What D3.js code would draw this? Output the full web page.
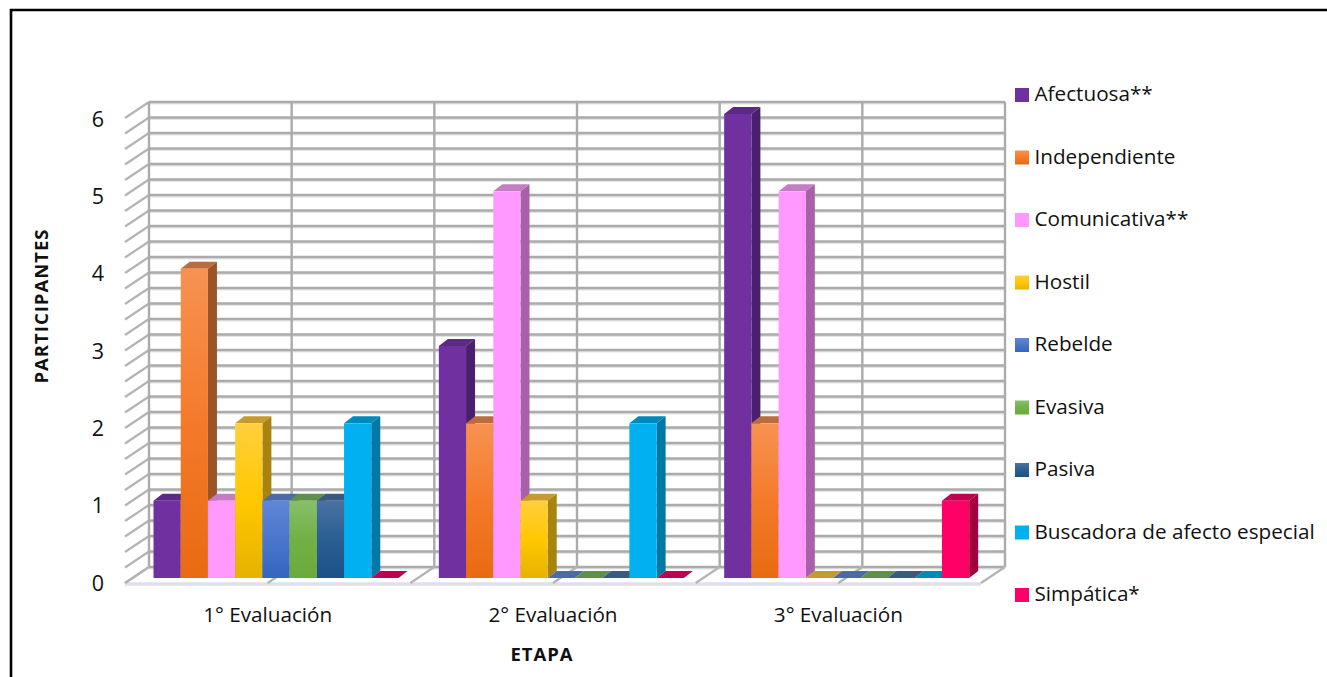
<!DOCTYPE html>
<html lang="es">
<head>
<meta charset="utf-8">
<title>Participantes por etapa</title>
<script src="https://cdn.jsdelivr.net/npm/d3@7/dist/d3.min.js"></script>
<style>
  html, body { margin: 0; padding: 0; background: #fff; }
  svg { display: block; }
  text { font-family: "Open Sans", Lato, sans-serif; fill: #111; }
</style>
</head>
<body>
<svg id="chart" width="1327" height="677"></svg>
<script>
// Evaluation stages and the traits counted at each one
const categories = ["1° Evaluación", "2° Evaluación", "3° Evaluación"];
const seriesNames = ["Afectuosa**", "Independiente", "Comunicativa**", "Hostil", "Rebelde", "Evasiva", "Pasiva", "Buscadora de afecto especial", "Simpática*"];
const afectuosa = [1, 3, 6];
const independiente = [4, 2, 2];
const comunicativa = [1, 5, 5];
const hostil = [2, 1, 0];
const rebelde = [1, 0, 0];
const evasiva = [1, 0, 0];
const pasiva = [1, 0, 0];
const buscadora = [2, 2, 0];
const simpatica = [0, 0, 1];
const seriesValues = [afectuosa, independiente, comunicativa, hostil, rebelde, evasiva, pasiva, buscadora, simpatica];
const axisLabels = [0, 1, 2, 3, 4, 5, 6];

// Face colours per series: gradient stops for the front, then top and side faces
const frontStops = [
  ["#7030a0", "#7030a0", "#7030a0"],
  ["#f79252", "#f47a2a", "#e86a12"],
  ["#ff99ff", "#ff99ff", "#ff99ff"],
  ["#ffcf3d", "#ffc800", "#e6b200"],
  ["#5f86d8", "#4a76cc", "#3366c0"],
  ["#88bf6a", "#72b045", "#6aab3c"],
  ["#4a72a2", "#2a5f92", "#1a5288"],
  ["#00b0f0", "#00b0f0", "#00b0f0"],
  ["#ff0066", "#ff0066", "#ff0066"]
];
const topFaces = ["#5a2a86", "#b96c3e", "#c47cc4", "#c69a2e", "#4a6aa8", "#5f8f4a", "#3a5a80", "#0089bb", "#c00050"];
const sideFaces = ["#4a1f6e", "#9c5326", "#a860a8", "#a8830f", "#3e5c94", "#4f7d3c", "#2c4c70", "#0078a5", "#a30040"];

const svg = d3.select("#chart");
const defs = svg.append("defs");
frontStops.forEach((stops, i) => {
  const g = defs.append("linearGradient").attr("id", "front" + i)
    .attr("x1", 0).attr("y1", 0).attr("x2", 0).attr("y2", 1);
  stops.forEach((c, k) => g.append("stop").attr("offset", k / 2).attr("stop-color", c));
});

// Oblique projection of the box: back wall plus offsets to the floor front and bar faces
const wall = { left: 149, right: 1005, top: 102, bottom: 567 };
const floorDx = -24, floorDy = 16;
const barDx = 9, barDy = -7;
const barBase = 578;

const yWall = d3.scaleLinear().domain([0, 6]).range([wall.bottom, wall.top]);
const yBar = d3.scaleLinear().domain([0, 6]).range([barBase, barBase - 464]);
const xFloor = d3.scaleBand().domain(categories).range([wall.left + floorDx, wall.right + floorDx]);
const xSeries = d3.scaleBand().domain(seriesNames).range([28.5, 273.5]);

// Chart frame: only the top and left edges are inked
svg.append("path").attr("d", "M11,677V10H1327")
  .attr("fill", "none").attr("stroke", "#000").attr("stroke-width", 2.6);

// Floor slab and its pale front edge
const floor = svg.append("g");
floor.append("path")
  .attr("d", `M${wall.left + floorDx},${wall.bottom + floorDy}L${wall.right + floorDx},${wall.bottom + floorDy}L${wall.right},${wall.bottom}L${wall.left},${wall.bottom}Z`)
  .attr("fill", "#fff");
floor.append("line")
  .attr("x1", wall.left + floorDx).attr("x2", wall.right + floorDx)
  .attr("y1", wall.bottom + floorDy + 1).attr("y2", wall.bottom + floorDy + 1)
  .attr("stroke", "#dfe0ea").attr("stroke-width", 3.5);

// Grid: 0.2 steps on the back wall, with matching diagonals down the left wall
const gridStyle = sel => sel.attr("stroke", "#ababab").attr("stroke-width", 2.4).attr("fill", "none");
const gridSteps = d3.range(0, 31).map(i => i / 5);
const grid = svg.append("g");
grid.selectAll(".halo").data(gridSteps).join("line").attr("class", "halo")
  .attr("x1", wall.left).attr("x2", wall.right)
  .attr("y1", d => yWall(d) + 1.5).attr("y2", d => yWall(d) + 1.5)
  .attr("stroke", "#e4e4e4").attr("stroke-width", 2);
grid.selectAll(".h").data(gridSteps).join("line").attr("class", "h")
  .attr("x1", wall.left).attr("x2", wall.right)
  .attr("y1", d => yWall(d)).attr("y2", d => yWall(d)).call(gridStyle);
grid.selectAll(".d").data(gridSteps).join("line").attr("class", "d")
  .attr("x1", wall.left + floorDx).attr("x2", wall.left)
  .attr("y1", d => yWall(d) + floorDy).attr("y2", d => yWall(d))
  .attr("stroke", "#b4b4b4").attr("stroke-width", 2.2);

// Verticals at every half category, each with a diagonal across the floor
const halfSteps = d3.range(0, 7).map(i => i / 2);
const xHalf = d3.scaleLinear().domain([0, 3]).range([wall.left, wall.right]);
grid.selectAll(".v").data(halfSteps).join("line").attr("class", "v")
  .attr("x1", d => xHalf(d)).attr("x2", d => xHalf(d))
  .attr("y1", wall.top).attr("y2", wall.bottom).call(gridStyle);
grid.selectAll(".f").data(halfSteps).join("line").attr("class", "f")
  .attr("x1", d => xHalf(d) + floorDx).attr("x2", d => xHalf(d))
  .attr("y1", wall.bottom + floorDy).attr("y2", wall.bottom)
  .attr("stroke", "#b4b4b4").attr("stroke-width", 2.2);

// Bars: each gets a top face, a side face and a front face, painted left to right
const bars = [];
categories.forEach((cat, c) => {
  seriesNames.forEach((name, s) => bars.push({ cat, name, s, value: seriesValues[s][c] }));
});
const barG = svg.append("g");
bars.forEach(b => {
  const x = xFloor(b.cat) + xSeries(b.name);
  const w = xSeries.bandwidth();
  const yTop = yBar(b.value);
  const g = barG.append("g");
  g.append("path")
    .attr("d", `M${x},${yTop}L${x + w},${yTop}L${x + w + barDx},${yTop + barDy}L${x + barDx},${yTop + barDy}Z`)
    .attr("fill", topFaces[b.s]);
  if (b.value > 0) {
    g.append("path")
      .attr("d", `M${x + w},${yTop}L${x + w + barDx},${yTop + barDy}L${x + w + barDx},${barBase + barDy}L${x + w},${barBase}Z`)
      .attr("fill", sideFaces[b.s]);
    g.append("rect").attr("x", x).attr("y", yTop)
      .attr("width", w).attr("height", barBase - yTop)
      .attr("fill", `url(#front${b.s})`);
  }
});

// Value labels down the left side
svg.append("g").selectAll("text").data(axisLabels).join("text")
  .attr("x", 104).attr("y", d => yBar(d) + 5)
  .attr("dy", "0.36em").attr("text-anchor", "end")
  .attr("font-size", 21.5).text(d => d);

// Stage labels under the floor
svg.append("g").selectAll("text").data(categories).join("text")
  .attr("x", d => xFloor(d) + xFloor.bandwidth() / 2).attr("y", 622)
  .attr("text-anchor", "middle").attr("font-size", 20.7).text(d => d);

// Axis titles
svg.append("text").attr("transform", "translate(48,306) rotate(-90)")
  .attr("text-anchor", "middle").attr("font-size", 18.5).attr("font-weight", 700)
  .attr("letter-spacing", 1).text("PARTICIPANTES");
svg.append("text").attr("x", 542).attr("y", 661)
  .attr("text-anchor", "middle").attr("font-size", 18.5).attr("font-weight", 700)
  .attr("letter-spacing", 1).text("ETAPA");

// Legend column
const yLegend = d3.scalePoint().domain(seriesNames).range([95, 595]);
const legend = svg.append("g").selectAll("g").data(seriesNames).join("g")
  .attr("transform", d => `translate(1015,${yLegend(d)})`);
legend.append("rect").attr("x", 0).attr("y", -7).attr("width", 14).attr("height", 14)
  .attr("fill", (d, i) => `url(#front${i})`);
legend.append("text").attr("x", 19.5).attr("y", -1).attr("dy", "0.36em")
  .attr("font-size", 20.7).text(d => d);
</script>
</body>
</html>
